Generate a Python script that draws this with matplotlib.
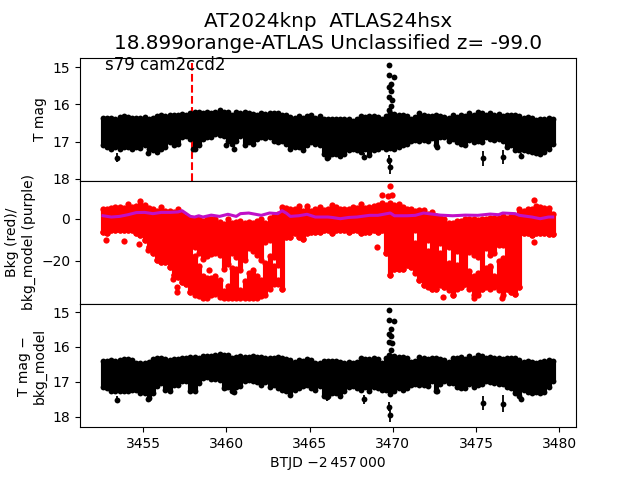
import numpy as np
import matplotlib
matplotlib.use("Agg")
import matplotlib.pyplot as plt

# time grid of the dense band: 3452.6 ... 3479.6 in 0.25 d steps
t_start = 3452.6
t_step = 0.25

# Panel 1: T mag, upper (bright) and lower (faint) edge of the dense band
mag_hi = [16.37,16.35,16.36,16.38,16.33,16.31,16.33,16.37,16.36,16.37,16.34,16.38,16.35,16.31,16.27,16.31,16.29,16.29,16.28,16.26,16.29,16.24,16.20,16.20,16.24,16.20,16.22,16.19,16.15,16.19,16.20,16.27,16.20,16.24,16.20,16.22,16.25,16.27,16.22,16.25,16.24,16.24,16.24,16.27,16.29,16.33,16.35,16.31,16.37,16.31,16.29,16.35,16.31,16.40,16.40,
          16.40,16.38,16.40,16.38,16.40,16.44,16.38,16.31,16.34,16.31,16.31,16.33,16.40,16.31,16.24,16.25,16.28,16.29,16.31,16.38,16.34,16.24,16.27,16.31,16.31,16.29,16.31,16.33,16.37,16.28,16.33,16.28,16.31,16.22,16.27,16.20,16.22,16.29,16.24,16.27,16.25,16.31,16.29,16.27,16.28,16.31,16.35,16.33,16.37,16.41,16.38,16.40,16.35,16.38]
mag_lo = [17.10,17.13,17.19,17.15,17.19,17.15,17.15,17.19,17.15,17.16,17.10,17.19,17.23,17.28,17.19,17.15,17.01,17.10,17.06,16.88,16.84,16.93,17.19,17.10,16.93,16.88,16.87,16.79,16.81,16.84,16.97,17.06,16.97,16.84,17.10,17.01,17.06,16.93,16.87,16.90,16.87,16.97,17.01,16.97,17.06,17.19,17.15,17.13,17.23,17.10,17.01,17.06,17.10,17.32,17.41,
          17.32,17.34,17.39,17.32,17.23,17.19,17.23,17.28,17.19,17.36,17.23,17.19,17.15,17.19,17.17,17.19,17.15,17.10,17.06,16.97,16.95,16.97,16.95,16.99,16.90,17.08,16.88,16.87,16.99,16.93,17.01,17.06,17.10,16.95,17.01,16.97,17.01,16.88,16.93,16.95,16.93,16.99,17.15,17.10,17.23,17.23,17.22,17.25,17.28,17.30,17.32,17.28,17.19,17.06]
# Panel 1 isolated points
out1_t = [3469.80,3469.76,3470.09,3469.88,3469.80,3469.88,3469.80,3469.95,3469.92,3469.80,3469.80,3469.84,3468.28,3475.41,3476.61,3477.68,3472.66,3453.42,3460.01,3460.45,3458.00,3455.29,3466.03]
out1_m = [14.95,15.21,15.26,15.46,15.54,15.65,15.81,15.88,16.03,16.16,17.49,17.69,17.40,17.45,17.41,17.39,17.15,17.43,17.10,17.19,17.19,17.30,17.43]
out1_e = [0.03,0.03,0.03,0.03,0.03,0.03,0.03,0.03,0.03,0.03,0.12,0.17,0.10,0.20,0.18,0.08,0.08,0.12,0.05,0.08,0.05,0.05,0.10]

# Panel 3: T mag - bkg_model
sub_hi = [16.40,16.40,16.38,16.41,16.38,16.36,16.35,16.38,16.45,16.47,16.47,16.43,16.35,16.33,16.31,16.35,16.37,16.35,16.35,16.32,16.31,16.30,16.29,16.31,16.26,16.25,16.26,16.23,16.19,16.22,16.23,16.31,16.28,16.26,16.28,16.29,16.26,16.28,16.29,16.31,16.31,16.31,16.30,16.31,16.35,16.38,16.42,16.38,16.40,16.35,16.38,16.45,16.47,16.40,16.40,
          16.40,16.40,16.42,16.45,16.42,16.45,16.43,16.33,16.35,16.35,16.32,16.35,16.45,16.33,16.26,16.26,16.29,16.29,16.33,16.42,16.40,16.29,16.31,16.35,16.33,16.33,16.35,16.37,16.42,16.31,16.31,16.29,16.35,16.26,16.31,16.24,16.26,16.33,16.28,16.31,16.31,16.35,16.33,16.31,16.33,16.37,16.42,16.40,16.42,16.45,16.43,16.40,16.38,16.40]
sub_lo = [17.15,17.17,17.25,17.25,17.25,17.25,17.27,17.22,17.22,17.32,17.32,17.46,17.32,17.12,17.03,17.22,17.25,17.08,17.08,16.98,16.98,17.27,17.27,17.03,16.90,16.86,16.93,16.93,16.95,17.17,17.15,17.25,17.15,17.12,16.98,16.96,16.98,17.00,17.08,17.00,17.15,17.08,17.17,17.22,17.27,17.37,17.22,17.17,17.12,17.08,17.19,17.22,17.12,17.41,17.41,
          17.32,17.32,17.41,17.27,17.15,17.12,17.19,17.22,17.15,17.25,17.15,17.17,17.22,17.22,17.35,17.27,17.17,17.22,17.19,17.08,17.06,17.10,17.08,17.12,16.98,17.25,17.06,16.98,17.03,17.03,17.15,17.19,17.19,17.06,17.15,17.10,17.06,16.98,17.00,17.03,17.06,17.06,17.15,17.19,17.32,17.41,17.22,17.29,17.32,17.29,17.32,17.29,17.15,16.98]
out3_t = [3469.80,3469.76,3470.09,3469.88,3469.80,3469.88,3469.76,3469.95,3469.92,3469.80,3469.80,3469.84,3468.28,3475.41,3476.61,3477.68,3472.66,3453.42,3460.01,3460.45,3455.29,3466.03]
out3_m = [14.95,15.22,15.27,15.49,15.63,15.70,15.85,15.90,16.09,16.23,17.71,17.95,17.50,17.60,17.63,17.49,17.26,17.51,17.15,17.29,17.49,17.44]
out3_e = [0.03,0.03,0.03,0.03,0.03,0.03,0.03,0.03,0.03,0.03,0.12,0.20,0.13,0.20,0.24,0.08,0.08,0.10,0.05,0.08,0.05,0.10]

# Panel 2: background flux, edges of the dense band
bkg_hi = [4.8,4.4,5.2,5.7,5.7,5.2,6.8,5.7,6.0,8.4,6.3,5.2,4.8,3.6,5.7,3.6,3.6,3.2,4.4,2.1,0.95,-0.3,0.0,0.5,-1.1,0.0,-0.3,0.0,-1.6,-2.7,-0.3,-2.2,-1.6,-1.1,-1.9,-1.6,-1.9,-1.1,-0.3,-2.2,0.5,1.3,2.1,5.7,5.2,4.8,4.8,6.0,3.6,6.0,3.6,4.4,5.7,4.1,4.4,
          6.3,5.7,4.8,4.4,4.4,5.7,5.2,6.8,5.2,5.7,6.0,6.3,7.3,6.3,7.3,6.3,6.8,5.7,4.8,4.4,3.6,4.1,4.1,2.1,3.2,1.3,0.95,0.0,-1.9,-1.9,-1.1,-1.1,0.0,-0.3,0.0,-0.6,0.0,0.0,0.5,0.5,0.5,1.3,0.5,1.3,1.3,4.4,3.6,4.4,4.8,6.0,5.7,5.2,5.2,2.1]
bkg_lo = [-6.2,-7.0,-5.4,-5.4,-5.4,-5.4,-5.4,-5.4,-7.0,-7.8,-10.2,-13.3,-16.5,-19.7,-20.5,-20.5,-22.9,-26.8,-27.6,-30.0,-30.8,-34.8,-36.3,-36.8,-37.5,-37.5,-36.3,-35.9,-37.1,-37.5,-37.5,-37.5,-37.5,-37.5,-37.5,-37.5,-37.5,-37.5,-36.8,-36.3,-33.2,-31.1,-31.1,-33.2,-8.6,-8.6,-7.0,-8.6,-9.4,-7.0,-6.2,-6.2,-6.2,-5.4,-5.4,
          -7.0,-5.4,-5.4,-5.4,-6.2,-5.4,-5.4,-7.0,-6.2,-6.2,-5.4,-6.2,-5.4,-16.5,-26.8,-23.7,-23.7,-23.7,-22.1,-22.9,-26.0,-29.2,-31.6,-32.4,-33.2,-33.2,-31.6,-32.4,-34.0,-36.3,-33.2,-32.4,-30.8,-33.2,-36.3,-36.3,-33.2,-32.4,-33.2,-32.4,-34.0,-36.3,-33.2,-34.8,-35.6,-32.4,-7.0,-7.0,-7.8,-7.0,-7.0,-7.0,-7.3,-7.3]
# sparse holes in the dense band: time, last value above, first value below
gap_t = [3458.10,3458.35,3458.60,3458.85,3459.10,3459.35,3459.60,3459.85,3460.10,3460.35,3460.60,3460.85,3461.10,3461.35,3461.60,3461.85,3462.10,3462.35,3462.60,3462.85,3463.10,
         3471.35,3472.10,3472.85,3473.35,3473.85,3474.60,3474.85,3475.10,3475.60,3475.85,3476.10,3476.35,3476.60]
gap_top = [-13.3,-16.2,-18.9,-17.8,-16.8,-16.2,-17.3,-23.7,-21.3,-16.2,-18.1,-24.4,-19.7,-14.1,-15.2,-17.3,-19.7,-11.0,-10.2,-18.1,-22.1,
           -5.4,-10.2,-11.7,-13.3,-15.2,-15.7,-17.3,-18.1,-14.1,-17.3,-16.5,-12.5,-12.5]
gap_bot = [-17.8,-22.5,-27.3,-28.1,-28.1,-27.3,-28.9,-34.5,-32.1,-23.3,-24.1,-33.7,-29.7,-25.7,-24.4,-27.3,-28.9,-21.0,-17.8,-22.5,-28.9,
           -11.4,-15.4,-16.2,-21.0,-21.8,-25.0,-27.3,-25.7,-23.3,-22.5,-27.3,-20.2,-18.6]
# isolated background points
out2_t = [3452.78,3453.85,3454.75,3455.29,3458.97,3456.80,3457.06,3457.06,3469.08,3475.83,3478.48,3478.48,3469.86,3469.34,3469.74,3469.98,3472.99,3474.88,3476.53]
out2_v = [-10.0,-10.5,-11.9,-14.8,-24.3,-28.6,-32.2,-34.6,-13.5,-22.7,-11.1,8.7,15.7,11.4,10.9,11.4,-37.3,-37.8,-37.8]

# background model (purple)
model_t = [3452.6,3453.1,3453.6,3454.1,3454.6,3455.1,3455.6,3456.1,3456.6,3457.1,3457.35,3457.85,3458.1,3458.35,3458.6,3459.1,3459.6,3460.1,3460.6,3460.85,3461.35,3462.1,3462.6,3463.1,3463.35,3463.6,3463.85,3464.35,3464.85,3465.35,3466.1,
           3466.35,3466.85,3467.35,3467.85,3468.6,3469.1,3469.85,3470.1,3470.85,3471.35,3471.85,3472.35,3472.85,3473.6,3474.35,3475.1,3475.85,3476.35,3476.6,3477.35,3477.6,3478.35,3478.85,3479.35,3479.6]
model_v = [1.4,0.8,1.1,1.9,2.9,3.0,2.4,3.0,3.0,3.2,3.8,1.1,0.8,1.4,0.8,1.7,1.1,2.1,1.1,2.4,2.7,1.6,2.7,2.4,3.8,2.7,1.1,1.4,2.1,0.8,0.8,
           0.6,0.0,0.6,0.8,1.6,1.6,2.7,1.4,1.4,1.6,2.7,2.2,1.7,1.4,1.7,1.6,2.2,1.9,2.7,2.4,1.6,0.8,0.0,0.8,0.8]

marker_t = 3457.92
title = "AT2024knp  ATLAS24hsx\n18.899orange-ATLAS Unclassified z= -99.0"
sector_label = "s79 cam2ccd2"
x_ticks = [3455, 3460, 3465, 3470, 3475, 3480]
top_ticks = [15, 16, 17, 18]
mid_ticks = [-20, 0]
bot_ticks = [15, 16, 17, 18]

t = t_start + t_step * np.arange(len(mag_hi))
COL_LW = 3.7
MS_K = 4.2
MS_R = 4.5


def band(ax, hi, lo, color):
    ax.vlines(t, hi, lo, color=color, lw=COL_LW, zorder=2)
    ax.plot(t, hi, 'o', color=color, ms=MS_K, mew=0, zorder=2)
    ax.plot(t, lo, 'o', color=color, ms=MS_K, mew=0, zorder=2)


def points(ax, x, y, e):
    ax.errorbar(x, y, yerr=e, fmt='o', color='k', ms=MS_K, mew=0, elinewidth=1.3, zorder=3)


fig, (a1, a2, a3) = plt.subplots(3, 1, sharex=True, figsize=(6.4, 4.8), dpi=100)
fig.subplots_adjust(hspace=0)

# top panel
a1.axvline(marker_t, ymin=0, ymax=0.96, color='r', ls='--', lw=1.5, zorder=1)
band(a1, mag_hi, mag_lo, 'k')
points(a1, out1_t, out1_m, out1_e)
a1.set_ylim(18.05, 14.74)
a1.set_yticks(top_ticks)
a1.set_ylabel("T mag")
a1.text(3452.72, 15.07, sector_label, fontsize=12, color='k', zorder=5)

# middle panel
hi = np.array(bkg_hi, float)
lo = np.array(bkg_lo, float)
idx = np.round((np.array(gap_t) - t_start) / t_step).astype(int)
upper_end = lo.copy()
upper_end[idx] = gap_top
a2.vlines(t, hi, upper_end, color='r', lw=COL_LW, zorder=2)
a2.vlines(t[idx], gap_bot, lo[idx], color='r', lw=COL_LW, zorder=2)
a2.plot(t, hi, 'o', color='r', ms=MS_R, mew=0, zorder=2)
a2.plot(t, upper_end, 'o', color='r', ms=MS_R, mew=0, zorder=2)
a2.plot(t[idx], gap_bot, 'o', color='r', ms=MS_R, mew=0, zorder=2)
a2.plot(t, lo, 'o', color='r', ms=MS_R, mew=0, zorder=2)
a2.plot(out2_t, out2_v, 'o', color='r', ms=MS_R, mew=0, zorder=2)
a2.plot(model_t, model_v, '-', color='#c010c8', lw=2.2, zorder=3)
a2.set_ylim(-40.5, 18.0)
a2.set_yticks(mid_ticks)
a2.set_ylabel("Bkg (red)/\nbkg_model (purple)")

# bottom panel
band(a3, sub_hi, sub_lo, 'k')
points(a3, out3_t, out3_m, out3_e)
a3.set_ylim(18.30, 14.77)
a3.set_yticks(bot_ticks)
a3.set_ylabel("T mag \u2212\nbkg_model")
a3.set_xlim(3451.22, 3481.0)
a3.set_xticks(x_ticks)
a3.set_xlabel("BTJD \u22122\u2009457\u2009000")

a1.set_title(title, fontsize=14.4, pad=6)
fig.savefig("out.png", dpi=100)
